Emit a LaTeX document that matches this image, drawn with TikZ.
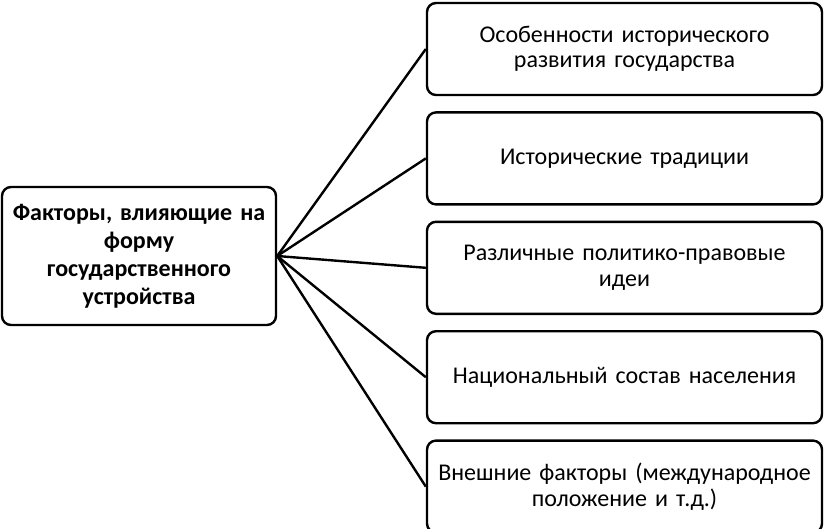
\documentclass[tikz,border=0pt]{standalone}
\usepackage{fontspec}
\setmainfont{Carlito}
\usetikzlibrary{positioning}
\begin{document}
\begin{tikzpicture}[x=1pt, y=1pt,
    main/.style = {draw, line width=2.4pt, rounded corners=9pt, align=center,
      minimum width=274pt, minimum height=138pt, text width=270pt, inner sep=0pt,
      font=\fontsize{24}{28}\selectfont\bfseries},
    factor/.style = {draw, line width=2.4pt, rounded corners=9pt, align=center,
      minimum width=395pt, minimum height=92pt, text width=392pt, inner sep=0pt,
      font=\fontsize{24}{25.5}\selectfont}]
        \useasboundingbox (0,0) rectangle (829,-528);
        \node[main] (0) at (139,-256) {Факторы, влияющие на\\форму\\государственного\\устройства};
        \node[factor] (1) at (624.5,-49) {Особенности исторического\\развития государства};
        \node[factor] (2) [below=15pt of 1] {Исторические традиции};
        \node[factor] (3) [below=15pt of 2] {Различные политико-правовые\\идеи};
        \node[factor] (4) [below=15pt of 3] {Национальный состав населения};
        \node[factor] (5) [below=15pt of 4] {Внешние факторы (международное\\положение и т.д.)};
        %
        \foreach \i in {1,...,5}
          \draw[line width=2.4pt] (0.east) -- (\i.west);
      \end{tikzpicture}
\end{document}
